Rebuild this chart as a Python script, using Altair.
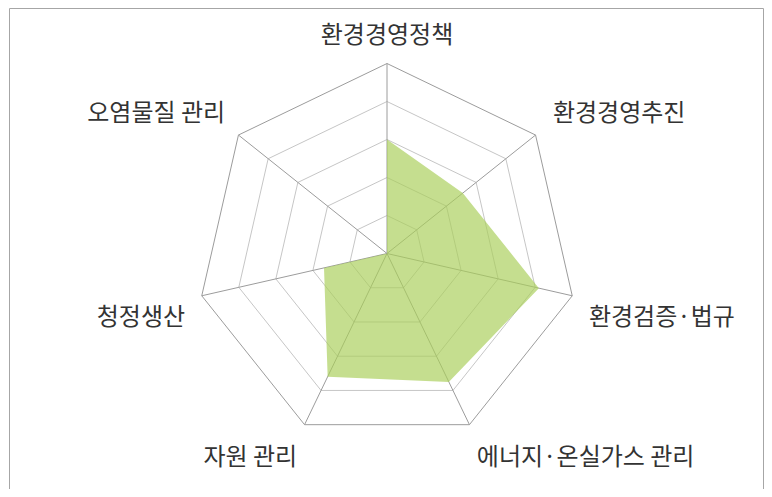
import altair as alt
import pandas as pd

# ---- data ----
categories = ["환경경영정책", "환경경영추진", "환경검증·법규", "에너지·온실가스 관리",
              "자원 관리", "청정생산", "오염물질 관리"]
values = [3.0, 2.55, 4.1, 3.75, 3.6, 1.7, 0.0]
grid_levels = [1, 2, 3, 4, 5]
max_level = 5

n = len(categories)
series_df = pd.DataFrame({"category": categories, "idx": list(range(n)), "value": values})
grid_df = pd.DataFrame([{"level": l, "idx": i} for l in grid_levels for i in range(n)])
spoke_df = pd.DataFrame({"idx": list(range(n)), "r": [max_level] * n})
label_df = pd.DataFrame({"category": categories, "idx": list(range(n))})
frame_df = pd.DataFrame({"k": [0]})

# ---- layout ----
W, H = 756, 481
ppu = 38.0          # pixels per value unit
cx, cy = 379.0, 245.5
label_r = 5.45
FONT = "Noto Sans CJK KR"
TXT = "#333333"

xs = alt.Scale(domain=[-cx / ppu, (W - cx) / ppu], nice=False, zero=False)
ys = alt.Scale(domain=[-(H - cy) / ppu, cy / ppu], nice=False, zero=False)

ang = f"2*PI*datum.idx/{n}"

def X(f):
    return alt.X(f, type="quantitative", scale=xs, axis=None)

def Y(f):
    return alt.Y(f, type="quantitative", scale=ys, axis=None)

rings = alt.Chart(grid_df).transform_calculate(
    gx=f"datum.level*sin({ang})", gy=f"datum.level*cos({ang})"
).mark_line(interpolate="linear-closed", strokeWidth=1).encode(
    x=X("gx"), y=Y("gy"), detail="level:N", order="idx:Q",
    color=alt.condition(alt.datum.level == max_level, alt.value("#9c9c9c"), alt.value("#c6c6c6")),
)

spokes = alt.Chart(spoke_df).transform_calculate(
    x0="0", y0="0", x1=f"datum.r*sin({ang})", y1=f"datum.r*cos({ang})"
).mark_rule(color="#9c9c9c", strokeWidth=1).encode(
    x=X("x0"), y=Y("y0"), x2="x1:Q", y2="y1:Q"
)

area = alt.Chart(series_df).transform_calculate(
    px=f"datum.value*sin({ang})", py=f"datum.value*cos({ang})"
).mark_line(interpolate="linear-closed", fill="#aace5a", fillOpacity=0.68,
            strokeOpacity=0, strokeWidth=0).encode(
    x=X("px"), y=Y("py"), order="idx:Q"
)

def label_layer(cond, align, baseline, dx=0, dy=0):
    return alt.Chart(label_df).transform_calculate(
        sx=f"sin({ang})", cyy=f"cos({ang})",
        lx=f"{label_r}*sin({ang})", ly=f"{label_r}*cos({ang})"
    ).transform_filter(cond).mark_text(
        font=FONT, fontSize=24, color=TXT, align=align, baseline=baseline, dx=dx, dy=dy
    ).encode(x=X("lx"), y=Y("ly"), text="category:N")

labels = [
    label_layer("abs(datum.sx) < 0.1", "center", "bottom", 0, 2),
    label_layer("datum.sx >= 0.1 && datum.cyy > 0", "left", "bottom", 4, 2),
    label_layer("datum.sx >= 0.1 && datum.cyy <= 0", "left", "top", 0, 6),
    label_layer("datum.sx <= -0.1 && datum.cyy <= 0", "right", "top", 0, 6),
    label_layer("datum.sx <= -0.1 && datum.cyy > 0", "right", "bottom", 0, 2),
]

frame_color = "#a6a6a6"
frame = [
    alt.Chart(frame_df).mark_rule(color=frame_color).encode(
        x=alt.value(1.5), y=alt.value(0.5), y2=alt.value(H)),
    alt.Chart(frame_df).mark_rule(color=frame_color).encode(
        x=alt.value(W - 0.5), y=alt.value(0.5), y2=alt.value(H)),
    alt.Chart(frame_df).mark_rule(color=frame_color).encode(
        x=alt.value(1.5), x2=alt.value(W - 0.5), y=alt.value(0.5)),
]

chart = alt.layer(rings, spokes, area, *labels, *frame).properties(
    width=W, height=H, padding=0, autosize="none", background="white"
).configure_view(stroke=None)

chart.save("out.html", embed_options={"renderer": "svg", "actions": False})
